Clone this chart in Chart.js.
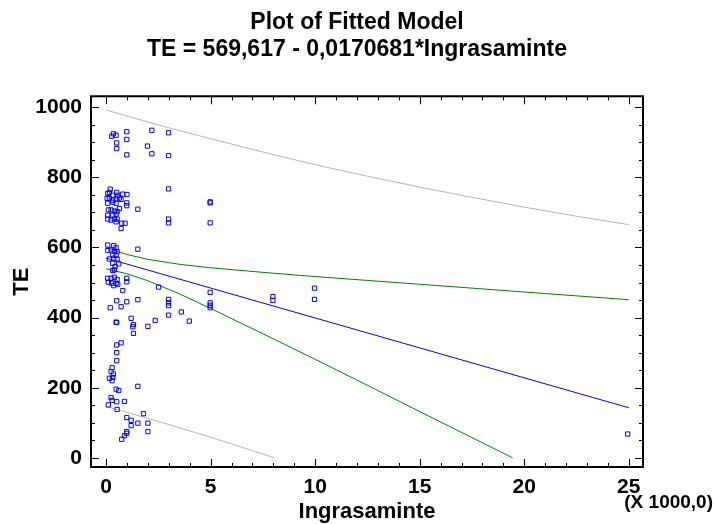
<!DOCTYPE html>
<html lang="en">
<head>
<meta charset="UTF-8">
<title>Plot of Fitted Model</title>
<script src="https://cdn.jsdelivr.net/npm/chart.js"></script>
<style>
  html, body { margin: 0; padding: 0; background: #fff; }
  #wrap { width: 714px; height: 524px; }
</style>
</head>
<body>
<div id="wrap"><canvas id="chart"></canvas></div>
<script>
/* Observed points: Ingrasaminte (X 1000) and TE. */
const obsX = [0.27, 0.35, 0.48, 0.99, 2.19, 2.99, 0.51, 0.99, 1.98, 0.51, 0.99, 2.19, 2.99,
  2.99, 4.98, 4.98, 2.99, 2.99, 4.98, 1.52,
  0.2, 0.08, 0.16, 0.32, 0.51, 0.56, 0.8, 1.0, 0.05, 0.16, 0.32, 0.48, 0.64, 0.72, 0.08, 0.32,
  0.48, 0.99, 0.99, 0.64, 0.11, 0.24, 0.4, 0.53, 0.08, 0.32, 0.48, 0.08, 0.24, 0.4, 0.53, 0.48,
  0.75, 0.91, 0.72,
  0.08, 0.37, 0.48, 0.08, 0.24, 0.4, 0.53, 1.52, 0.32, 0.48, 0.16, 0.37, 0.53, 0.61, 0.32, 0.43,
  0.32, 0.4, 0.08, 0.24, 0.4, 0.53, 0.99, 0.99, 0.11, 0.27, 0.48, 0.37, 0.56, 0.8, 2.51,
  4.98, 0.51, 0.99, 1.52, 0.2, 0.72, 2.99, 2.99, 2.99, 2.99, 4.98, 4.98, 4.98, 3.6, 3.98, 2.35,
  2.0, 1.2, 1.31, 1.28, 1.31, 0.48, 0.51, 0.72, 0.51, 0.51, 0.51, 0.29, 0.24, 0.35, 0.16, 0.32,
  0.29, 7.98, 7.98, 9.97, 9.97,
  1.52, 0.48, 0.61, 0.24, 0.29, 0.51, 0.88, 0.11, 0.53, 1.79, 0.99, 1.2, 1.52, 2.0, 1.2, 2.0,
  0.99, 0.99, 0.88, 0.75, 24.95]
const obsY = [917, 924, 920, 930, 934, 927, 898, 908, 889, 882, 864, 867, 862,
  767, 730, 727, 681, 670, 670, 709,
  766, 754, 757, 749, 757, 749, 752, 751, 740, 740, 735, 738, 741, 737, 726, 729,
  726, 727, 719, 711, 707, 707, 704, 702, 692, 692, 695, 681, 678, 681, 681, 673,
  669, 669, 654,
  607, 605, 599, 591, 593, 590, 588, 595, 578, 578, 567, 569, 567, 553, 555, 545,
  534, 536, 512, 512, 515, 509, 512, 502, 501, 498, 498, 491, 495, 477, 487,
  472, 448, 445, 451, 428, 431, 452, 442, 434, 407, 442, 435, 428, 416, 390, 392,
  375, 398, 380, 374, 355, 387, 386, 328, 322, 300, 277, 257, 246, 239, 227, 229,
  220, 460, 449, 484, 452,
  204, 196, 192, 172, 164, 160, 161, 151, 138, 126, 115, 107, 99, 99, 92, 75,
  75, 70, 63, 53, 68]

/* Fitted line. */
const fitX = [0, 25]
const fitY = [569.6, 142.9]

/* Confidence limits (green). */
const confUpX = [0, 1, 2, 3.5, 5, 7.5, 10, 12.5, 15, 17.5, 20, 22.5, 25]
const confUpY = [600, 580, 566, 552, 542, 529, 517, 506, 495, 484, 473, 462, 451]
const confLowX = [0, 1, 2, 3.5, 5, 7.5, 10, 12.5, 15, 17.5, 19.45]
const confLowY = [539, 525, 505, 468, 426, 354, 281, 207, 132, 58, 0]

/* Prediction limits (grey). */
const predUpX = [0, 2.5, 5, 7.5, 10, 12.5, 15, 17.5, 20, 22.5, 25]
const predUpY = [992, 949, 910, 872, 836, 803, 772, 743, 715, 689, 665]
const predLowX = [0, 2.5, 5, 7.5, 8.05]
const predLowY = [147, 104, 59, 11, 0]

/* Tick labels. */
const xTicks = [0, 5, 10, 15, 20, 25]
const yTicks = [0, 200, 400, 600, 800, 1000]

const FONT = "'Liberation Sans', Arial, sans-serif"

const pairs = (xs, ys) => xs.map((x, i) => ({ x: x, y: ys[i] }))

const lineSet = (xs, ys, color) => ({
  data: pairs(xs, ys),
  showLine: true,
  borderColor: color,
  borderWidth: 1,
  pointRadius: 0,
  fill: false,
  tension: 0
})

/* Frame, inward tick marks and the x multiplier note. */
const framePlugin = {
  id: 'frame',
  afterDraw(chart) {
    const ctx = chart.ctx
    const a = chart.chartArea
    const xs = chart.scales.x
    const ys = chart.scales.y
    ctx.save()
    ctx.strokeStyle = '#000'
    ctx.lineWidth = 1
    ctx.beginPath()
    for (let v = Math.ceil(xs.min); v <= xs.max; v++) {
      const px = Math.round(xs.getPixelForValue(v)) + 0.5
      const len = v % 5 === 0 ? 8 : 4
      ctx.moveTo(px, a.bottom); ctx.lineTo(px, a.bottom - len)
      ctx.moveTo(px, a.top); ctx.lineTo(px, a.top + len)
    }
    for (let v = 0; v <= ys.max; v += 50) {
      const py = Math.round(ys.getPixelForValue(v)) + 0.5
      const len = v % 200 === 0 ? 8 : 4
      ctx.moveTo(a.left, py); ctx.lineTo(a.left + len, py)
      ctx.moveTo(a.right, py); ctx.lineTo(a.right - len, py)
    }
    ctx.stroke()
    ctx.lineWidth = 2
    ctx.strokeRect(a.left, a.top, a.right - a.left, a.bottom - a.top)
    ctx.fillStyle = '#000'
    ctx.font = 'bold 19px ' + FONT
    ctx.textAlign = 'right'
    ctx.textBaseline = 'middle'
    ctx.fillText('(X 1000,0)', 713, 503)
    ctx.restore()
  }
}

new Chart(document.getElementById('chart'), {
  type: 'scatter',
  data: {
    datasets: [
      {
        data: pairs(obsX, obsY),
        pointStyle: 'rect',
        pointRadius: 3,
        pointHoverRadius: 3,
        borderColor: '#0000ff',
        backgroundColor: 'rgba(0,0,0,0)',
        borderWidth: 1
      },
      lineSet(fitX, fitY, '#0000ff'),
      lineSet(confUpX, confUpY, '#008000'),
      lineSet(confLowX, confLowY, '#008000'),
      lineSet(predUpX, predUpY, '#b4b4b4'),
      lineSet(predLowX, predLowY, '#b4b4b4')
    ]
  },
  options: {
    responsive: true,
    maintainAspectRatio: false,
    animation: false,
    layout: { padding: 0 },
    plugins: {
      legend: { display: false },
      tooltip: { enabled: false },
      title: {
        display: true,
        text: ['Plot of Fitted Model', 'TE = 569,617 - 0,0170681*Ingrasaminte'],
        color: '#000',
        font: { family: FONT, size: 23, weight: 'bold', lineHeight: 1.18 },
        padding: { top: 9, bottom: 33 }
      }
    },
    scales: {
      x: {
        type: 'linear',
        min: -0.72,
        max: 25.68,
        afterFit: s => { s.height = 57 },
        afterBuildTicks: s => { s.ticks = xTicks.map(v => ({ value: v })) },
        grid: { display: false, drawTicks: false },
        border: { display: false },
        ticks: {
          color: '#000',
          padding: 8,
          font: { family: FONT, size: 21, weight: 'bold' },
          callback: v => v
        },
        title: {
          display: true,
          text: 'Ingrasaminte',
          color: '#000',
          font: { family: FONT, size: 22, weight: 'bold', lineHeight: 1.1 },
          padding: { top: 0, bottom: 0 }
        }
      },
      y: {
        type: 'linear',
        min: -26,
        max: 1031,
        afterFit: s => { s.width = 91 },
        afterBuildTicks: s => { s.ticks = yTicks.map(v => ({ value: v })) },
        grid: { display: false, drawTicks: false },
        border: { display: false },
        ticks: {
          color: '#000',
          padding: 9,
          font: { family: FONT, size: 21, weight: 'bold' },
          callback: v => v
        },
        title: {
          display: true,
          text: 'TE',
          color: '#000',
          font: { family: FONT, size: 22, weight: 'bold', lineHeight: 1.2 },
          padding: { top: 9, bottom: 9 }
        }
      },
      /* empty right-hand strip that keeps room for the multiplier note */
      side: {
        type: 'linear',
        position: 'right',
        display: true,
        afterFit: s => { s.width = 71 },
        grid: { display: false, drawTicks: false },
        border: { display: false },
        ticks: { display: false }
      }
    }
  },
  plugins: [framePlugin]
})
</script>
</body>
</html>
